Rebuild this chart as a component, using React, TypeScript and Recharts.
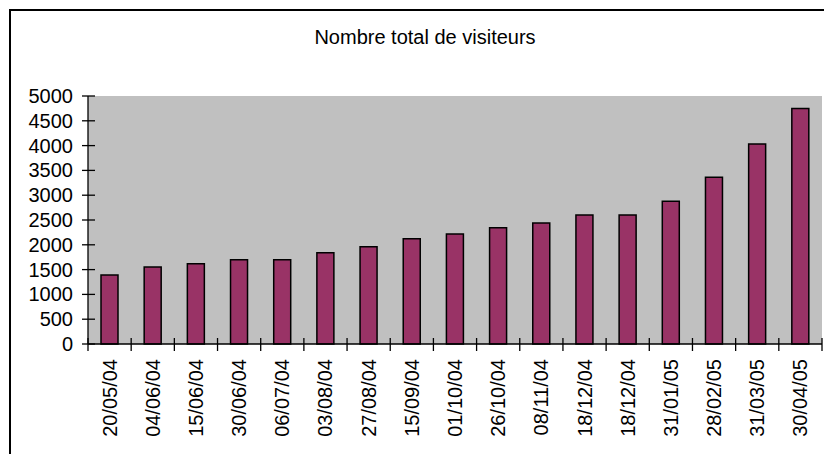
import React from 'react'
import { BarChart, Bar, XAxis, YAxis, CartesianGrid } from 'recharts'

const DATES = [
  '20/05/04', '04/06/04', '15/06/04', '30/06/04', '06/07/04', '03/08/04',
  '27/08/04', '15/09/04', '01/10/04', '26/10/04', '08/11/04', '18/12/04',
  '18/12/04', '31/01/05', '28/02/05', '31/03/05', '30/04/05',
]
const VISITEURS = [
  1390, 1550, 1620, 1700, 1700, 1840, 1960, 2120, 2220, 2345, 2440, 2600,
  2600, 2880, 3360, 4030, 4750,
]
const Y_TICKS = [0, 500, 1000, 1500, 2000, 2500, 3000, 3500, 4000, 4500, 5000]

const FONT = '"Liberation Sans", Arial, sans-serif'
const CHART_W = 813
const CHART_H = 443
const Y_AXIS_W = 77
const BAND_FALLBACK = (CHART_W - Y_AXIS_W - 2) / DATES.length

const data = DATES.map((date, i) => ({ date, visiteurs: VISITEURS[i] }))

function YTick({ x, y, payload }: any) {
  return (
    <g>
      <line x1={x - 6} x2={x + 7} y1={y} y2={y} stroke="#000" strokeWidth={1.3} />
      <text x={x - 15} y={y} dy="0.35em" textAnchor="end" fontSize={20} fill="#000" fontFamily={FONT}>
        {payload.value}
      </text>
    </g>
  )
}

function XTick({ x, y, payload, index }: any) {
  const half = payload?.offset > 0 ? payload.offset : BAND_FALLBACK / 2
  const last = index === DATES.length - 1
  return (
    <g>
      <line x1={x - half} x2={x - half} y1={y - 6} y2={y + 7} stroke="#000" strokeWidth={1.3} />
      {last && <line x1={x + half} x2={x + half} y1={y - 6} y2={y + 7} stroke="#000" strokeWidth={1.3} />}
      <text
        x={x} y={y + 15} dy="0.35em" textAnchor="end" fontSize={20} fill="#000" fontFamily={FONT}
        transform={`rotate(-90, ${x}, ${y + 15})`}
      >
        {payload.value}
      </text>
    </g>
  )
}

export default function App() {
  return (
    <div style={{
      position: 'fixed', left: 9, top: 9, width: CHART_W + 2, height: CHART_H + 2,
      borderLeft: '2px solid #000', borderTop: '2px solid #000', background: '#fff', overflow: 'hidden',
    }}>
      <div style={{
        position: 'absolute', left: 414, top: 15.5, transform: 'translateX(-50%)', whiteSpace: 'nowrap',
        fontFamily: FONT, fontSize: 20, lineHeight: '20px', color: '#000',
      }}>
        Nombre total de visiteurs
      </div>
      <BarChart width={CHART_W} height={CHART_H} data={data}
        margin={{ top: 85, right: 2, left: 0, bottom: 0 }} barSize={17}>
        <CartesianGrid fill="#C0C0C0" fillOpacity={1} horizontal={false} vertical={false} />
        <XAxis dataKey="date" height={110} interval={0} tickSize={0} tickMargin={0}
          axisLine={{ stroke: '#000', strokeWidth: 1.3 }} tickLine={false} tick={<XTick />} />
        <XAxis xAxisId="top" dataKey="date" orientation="top" height={0} tick={false} tickLine={false}
          axisLine={{ stroke: '#808080', strokeWidth: 1.5 }} />
        <YAxis width={Y_AXIS_W} domain={[0, 5000]} ticks={Y_TICKS} interval={0} tickSize={0} tickMargin={0}
          axisLine={{ stroke: '#000', strokeWidth: 1.3 }} tickLine={false} tick={<YTick />} />
        <YAxis yAxisId="right" orientation="right" width={0} domain={[0, 5000]} tick={false} tickLine={false}
          axisLine={{ stroke: '#808080', strokeWidth: 1.5 }} />
        <Bar dataKey="visiteurs" fill="#993366" stroke="#000" strokeWidth={1.5} isAnimationActive={false} />
      </BarChart>
    </div>
  )
}
